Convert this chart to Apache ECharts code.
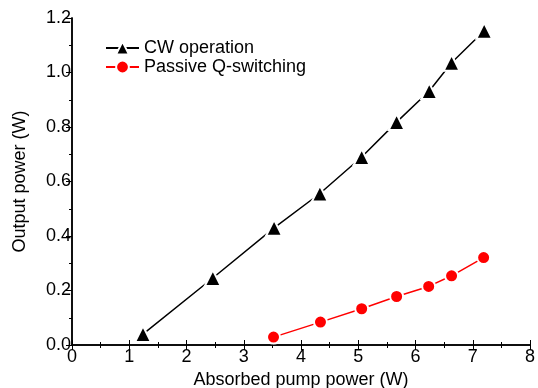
<!DOCTYPE html>
<html>
<head>
<meta charset="utf-8">
<script src="https://cdn.jsdelivr.net/npm/echarts@6/dist/echarts.min.js"></script>
<style>
html, body { margin: 0; padding: 0; background: #fff; }
#main { width: 538px; height: 388px; }
</style>
</head>
<body>
<div id="main"></div>
<script>
var cwPump = [1.24, 2.46, 3.53, 4.33, 5.06, 5.67, 6.24, 6.63, 7.20];
var cwPower = [0.04, 0.246, 0.43, 0.556, 0.69, 0.818, 0.932, 1.036, 1.153];
var qsPump = [3.52, 4.34, 5.06, 5.67, 6.23, 6.63, 7.19];
var qsPower = [0.029, 0.084, 0.133, 0.178, 0.215, 0.254, 0.321];

function pairs(xs, ys) {
	var out = [];
	for (var i = 0; i < xs.length; i++) out.push([xs[i], ys[i]]);
	return out;
}

var font = 'Liberation Sans, Arial, sans-serif';
var chart = echarts.init(document.getElementById('main'));
chart.setOption({
	animation: false,
	textStyle: { fontFamily: font, color: '#000' },
	grid: { left: 72, right: 8, top: 18, bottom: 43, outerBoundsMode: 'none', containLabel: false },
	legend: {
		orient: 'vertical',
		left: 105,
		top: 39,
		padding: 0,
		itemWidth: 33,
		itemHeight: 16,
		itemGap: 1,
		textStyle: { fontSize: 18, color: '#000', fontFamily: font },
		data: ['CW operation', 'Passive Q-switching']
	},
	xAxis: [
		{
			type: 'value', min: 0, max: 8, interval: 1,
			name: 'Absorbed pump power (W)', nameLocation: 'middle', nameGap: 26,
			nameTextStyle: { fontSize: 18, color: '#000' },
			axisLine: { lineStyle: { color: '#000', width: 1.5 } },
			axisTick: { inside: true, length: 5, lineStyle: { color: '#000' } },
			minorTick: { show: true, splitNumber: 2, length: 3, lineStyle: { color: '#000' } },
			axisLabel: { fontSize: 18, color: '#000', margin: 3 },
			splitLine: { show: false }
		},
		{
			type: 'value', position: 'top', min: 0, max: 8, interval: 1,
			axisLine: { show: true, lineStyle: { color: '#000', width: 1.5 } },
			axisTick: { inside: true, length: 5, lineStyle: { color: '#000' } },
			minorTick: { show: true, splitNumber: 2, length: 3, lineStyle: { color: '#000' } },
			axisLabel: { show: false },
			splitLine: { show: false }
		}
	],
	yAxis: [
		{
			type: 'value', min: 0, max: 1.2, interval: 0.2,
			name: 'Output power (W)', nameLocation: 'middle', nameGap: 43,
			nameTextStyle: { fontSize: 18, color: '#000' },
			axisLine: { show: true, lineStyle: { color: '#000', width: 1.5 } },
			axisTick: { show: true, inside: false, length: 6, lineStyle: { color: '#000' } },
			minorTick: { show: true, splitNumber: 2, length: 3, lineStyle: { color: '#000' } },
			axisLabel: { fontSize: 18, color: '#000', margin: 1, formatter: function (v) { return v.toFixed(1); } },
			splitLine: { show: false }
		},
		{
			type: 'value', position: 'right', min: 0, max: 1.2, interval: 0.2,
			axisLine: { show: true, lineStyle: { color: '#000', width: 1.5 } },
			axisTick: { show: true, inside: true, length: 5, lineStyle: { color: '#000' } },
			minorTick: { show: true, splitNumber: 2, length: 3, lineStyle: { color: '#000' } },
			axisLabel: { show: false },
			splitLine: { show: false }
		}
	],
	series: [
		{
			name: 'CW operation',
			type: 'line',
			data: pairs(cwPump, cwPower),
			symbol: 'triangle',
			symbolSize: 16,
			lineStyle: { color: '#000', width: 1.5 },
			itemStyle: { color: '#000', borderColor: '#fff', borderWidth: 2 }
		},
		{
			name: 'Passive Q-switching',
			type: 'line',
			data: pairs(qsPump, qsPower),
			symbol: 'circle',
			symbolSize: 13,
			lineStyle: { color: '#ff0000', width: 1.5 },
			itemStyle: { color: '#ff0000', borderColor: '#fff', borderWidth: 2 }
		}
	]
});
</script>
</body>
</html>
